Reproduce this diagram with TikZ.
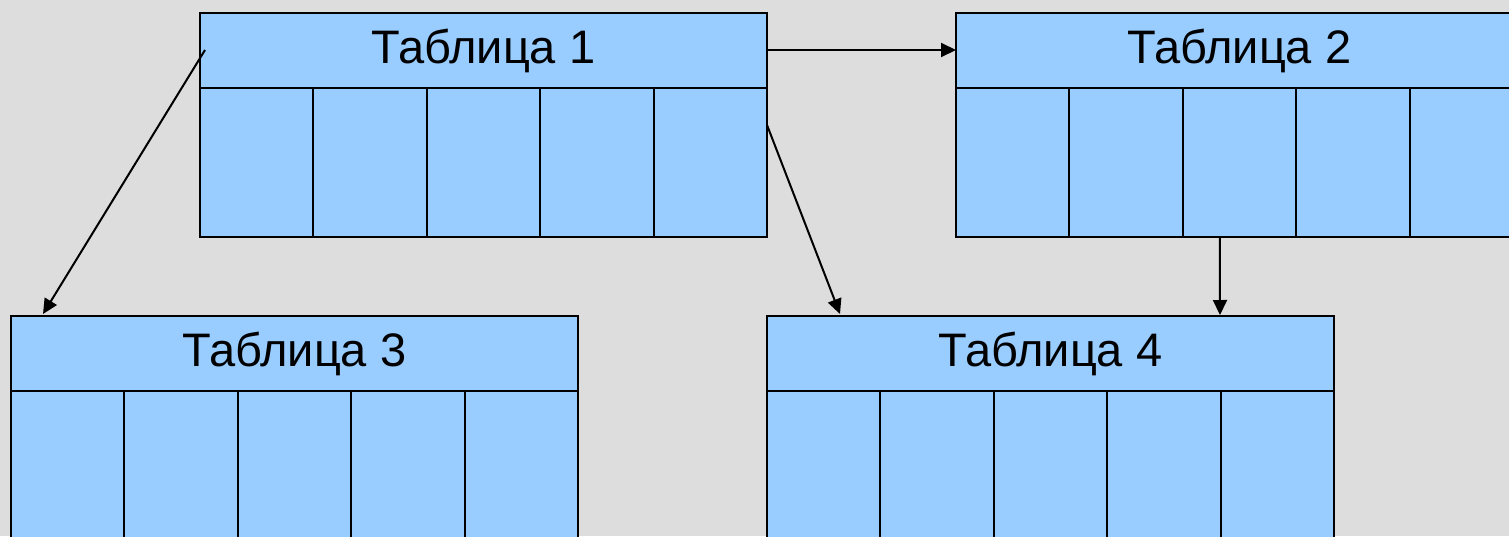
\documentclass[tikz,border=0pt]{standalone}
\usepackage{fontspec}
\setmainfont{Liberation Sans}
\usetikzlibrary{arrows.meta,calc}
\definecolor{bg}{HTML}{DDDDDD}
\definecolor{tbl}{HTML}{99CCFF}
\tikzset{
  hdr/.style={draw=black, fill=tbl, line width=2pt, minimum width=567pt, minimum height=75pt,
    inner sep=0pt, outer sep=0pt, anchor=north west, font=\fontsize{47}{50}\selectfont},
  cell/.style={draw=black, fill=tbl, line width=2pt, minimum width=113.4pt, minimum height=149pt,
    inner sep=0pt, outer sep=0pt, anchor=north west},
  link/.style={draw=black, line width=2pt, -{Triangle[length=15pt,width=14pt]}}
}
\begin{document}
\begin{tikzpicture}[x=1pt,y=-1pt]
\useasboundingbox (0,0) rectangle (1509,536);
\clip (0,0) rectangle (1509,536);
\fill[bg] (0,0) rectangle (1509,536);
% Table 1
\node[hdr] (t1) at (200,13) {Таблица 1};
\node[cell] (t1a) at (t1.south west) {};
\node[cell] (t1b) at (t1a.north east) {};
\node[cell] (t1c) at (t1b.north east) {};
\node[cell] (t1d) at (t1c.north east) {};
\node[cell] (t1e) at (t1d.north east) {};
% Table 2
\node[hdr] (t2) at (956,13) {Таблица 2};
\node[cell] (t2a) at (t2.south west) {};
\node[cell] (t2b) at (t2a.north east) {};
\node[cell] (t2c) at (t2b.north east) {};
\node[cell] (t2d) at (t2c.north east) {};
\node[cell] (t2e) at (t2d.north east) {};
% Table 3
\node[hdr] (t3) at (11,316) {Таблица 3};
\node[cell] (t3a) at (t3.south west) {};
\node[cell] (t3b) at (t3a.north east) {};
\node[cell] (t3c) at (t3b.north east) {};
\node[cell] (t3d) at (t3c.north east) {};
\node[cell] (t3e) at (t3d.north east) {};
% Table 4
\node[hdr] (t4) at (767,316) {Таблица 4};
\node[cell] (t4a) at (t4.south west) {};
\node[cell] (t4b) at (t4a.north east) {};
\node[cell] (t4c) at (t4b.north east) {};
\node[cell] (t4d) at (t4c.north east) {};
\node[cell] (t4e) at (t4d.north east) {};
% connector end points
\coordinate (s1) at ($(t1.north west)+(5,37)$);
\coordinate (e1) at ($(t3.north west)+(32,-2)$);
\coordinate (s2) at ($(t1.north east)+(0,37)$);
\coordinate (e2) at ($(t2.north west)+(0,37)$);
\coordinate (s3) at ($(t1e.north east)+(0,37)$);
\coordinate (e3) at ($(t4.north west)+(73,-2)$);
\coordinate (s4) at ($(t2c.south west)+(37,0)$);
\coordinate (e4) at ($(t4.north west)+(453,-1)$);
\draw[link] (s1) -- (e1);
\draw[link] (s2) -- (e2);
\draw[link] (s3) -- (e3);
\draw[link] (s4) -- (e4);
\end{tikzpicture}
\end{document}
